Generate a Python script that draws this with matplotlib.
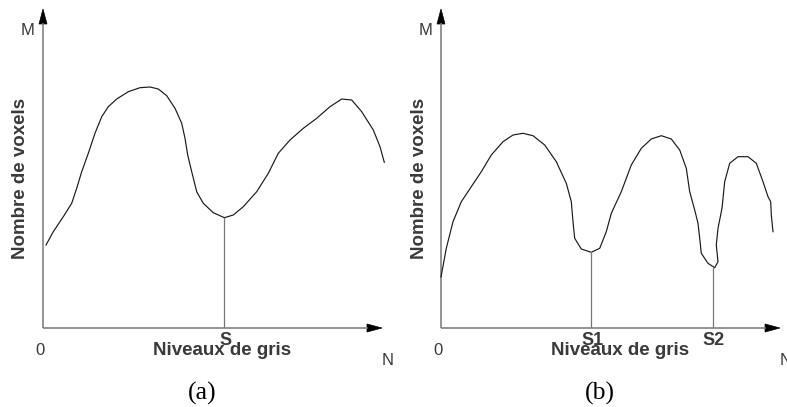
import matplotlib.pyplot as plt

# histogram (a): one threshold S
gris_a = [3, 10.3, 20.3, 28.7, 33.7, 38.7, 45.3, 52, 58.7, 65.3, 73.7, 85.3,
          97, 107, 115.3, 123.7, 132, 138.7, 142, 144.7, 148.7, 153.7, 160.3,
          170.3, 181.3, 190.3, 200.3, 213.7, 225.3, 235.3, 247, 260.3, 273.7,
          287, 298.7, 308.7, 318.7, 330.3, 337, 341.3]
voxels_a = [83, 96.3, 111.3, 124.7, 139.7, 156.3, 174.7, 194.7, 211.3, 221.3,
            229, 236.3, 240.3, 241, 239, 232.3, 219.7, 204.7, 189.7, 173, 156.3,
            136.3, 124.7, 115.3, 110.3, 113, 121.3, 136.3, 154.7, 174.7, 188,
            199.7, 209.7, 221.3, 229, 228, 216.3, 198, 181.3, 165.7]
seuils_a = [181.3]
seuil_labels_a = ["S"]

# histogram (b): two thresholds S1, S2
gris_b = [0, 5.3, 12, 20.3, 30.3, 40.3, 50.3, 62, 72, 82, 92, 103.7, 115.3,
          125.3, 130.3, 132, 133.7, 140.3, 150.3, 158.7, 165.3, 170.3, 180.3,
          190.3, 200.3, 210.3, 220.3, 230.3, 238.7, 245.3, 248.7, 253.7, 257,
          258.7, 260.3, 267, 273.7, 277, 275.3, 277, 281, 283.7, 288.7, 297,
          307, 315.3, 322, 327, 329.7, 330.3, 332]
voxels_b = [51, 79.7, 106.3, 126.3, 141.3, 156.3, 173, 186.3, 193, 194.7, 192.3,
            183, 166.3, 144.7, 126.3, 106.3, 89.7, 79, 75.7, 79.7, 96.3, 114.7,
            136.3, 163, 179.7, 189, 192.3, 189, 178, 159.7, 136.3, 118, 104.7,
            89.7, 74.7, 64.7, 60.3, 66.3, 83, 99.7, 119.7, 146.3, 164.7, 171.3,
            171.3, 164.7, 146.3, 131.3, 126.3, 113, 96.3]
seuils_b = [150.3, 272]
seuil_labels_b = ["S1", "S2"]

AXIS_GREY = "#777777"
TEXT_GREY = "#3a3a3a"
W, H = 787, 407


def draw_panel(ax, gris, voxels, seuils, seuil_labels, letter, label_x, ylab_x):
    ax.set_xlim(0, 346)
    ax.set_ylim(0, 325)
    ax.axis("off")

    # axes with arrow heads
    ax.plot([0, 325], [0, 0], color=AXIS_GREY, lw=1.1,
            solid_capstyle="butt", clip_on=False)
    ax.plot([0, 0], [0, 305], color=AXIS_GREY, lw=1.1,
            solid_capstyle="butt", clip_on=False)
    ax.arrow(324, 0, 15, 0, width=0, head_width=8, head_length=15,
             length_includes_head=True, fc="black", ec="black", lw=0.5,
             clip_on=False)
    ax.arrow(0, 304, 0, 15, width=0, head_width=8, head_length=15,
             length_includes_head=True, fc="black", ec="black", lw=0.5,
             clip_on=False)

    # histogram curve
    ax.plot(gris, voxels, color="#1a1a1a", lw=0.85, clip_on=False,
            solid_joinstyle="round")

    # thresholds
    for s, lab in zip(seuils, seuil_labels):
        idx = min(range(len(gris)), key=lambda i: abs(gris[i] - s))
        ax.plot([s, s], [0, voxels[idx]], color=AXIS_GREY, lw=0.9)
        ax.text(s + 1, -17, lab, ha="center", va="baseline", fontsize=13,
                fontweight="bold", color=TEXT_GREY, clip_on=False)

    ax.text(-15, 293, "M", ha="center", va="baseline", fontsize=12,
            color=TEXT_GREY, clip_on=False)
    ax.text(-3, -27, "0", ha="center", va="baseline", fontsize=12,
            color=TEXT_GREY, clip_on=False)
    ax.text(345, -37, "N", ha="center", va="baseline", fontsize=12,
            color=TEXT_GREY, clip_on=False)
    ax.text(label_x, -27, "Niveaux de gris", ha="center", va="baseline",
            fontsize=13.5, fontweight="bold", color=TEXT_GREY, clip_on=False)
    ax.text(ylab_x, 150, "Nombre de voxels", ha="center", va="center",
            rotation=90, fontsize=13.5, fontweight="bold", color=TEXT_GREY,
            clip_on=False)
    ax.text(label_x - 20, -65, letter, ha="center", va="center", fontsize=18.5,
            family="Liberation Serif", color="black", clip_on=False)


plt.rcParams["font.family"] = ["Liberation Sans", "DejaVu Sans"]
fig = plt.figure(figsize=(W / 100, H / 100), dpi=100)
fig.patch.set_facecolor("white")

ax_a = fig.add_axes([43 / W, 79 / H, 346 / W, 325 / H])
ax_b = fig.add_axes([441 / W, 79 / H, 346 / W, 325 / H])

draw_panel(ax_a, gris_a, voxels_a, seuils_a, seuil_labels_a, "(a)", 179.5, -22.5)
draw_panel(ax_b, gris_b, voxels_b, seuils_b, seuil_labels_b, "(b)", 179, -21)

fig.savefig("out.png", dpi=100, facecolor="white")
